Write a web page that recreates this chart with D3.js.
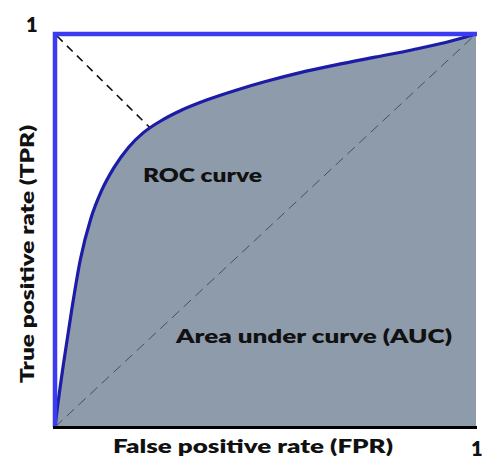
<!DOCTYPE html>
<html>
<head>
<meta charset="utf-8">
<script src="https://cdn.jsdelivr.net/npm/d3@7"></script>
<style>
  body { margin: 0; background: #fff; }
  text { font-family: Lato, "Open Sans", sans-serif; font-weight: 800; fill: #111; }
</style>
</head>
<body>
<svg id="chart" width="483" height="460"></svg>
<script>
// ROC curve points (FPR, TPR)
const fpr = [0, 0.007, 0.02, 0.04, 0.06, 0.085, 0.11, 0.14, 0.175, 0.21, 0.25, 0.30, 0.36, 0.43, 0.50, 0.58, 0.67, 0.76, 0.85, 0.93, 1];
const tpr = [0, 0.06, 0.16, 0.30, 0.425, 0.53, 0.60, 0.66, 0.712, 0.749, 0.778, 0.806, 0.832, 0.857, 0.879, 0.901, 0.922, 0.941, 0.96, 0.979, 1];
// point on the curve nearest the top-left corner
const bestPoint = [0.226, 0.761];
const cornerLabels = ["1", "1"];
const xTitle = "False positive rate (FPR)";
const yTitle = "True positive rate (TPR)";
const curveLabel = "ROC curve";
const areaLabel = "Area under curve (AUC)";

const svg = d3.select("#chart");
const plotLeft = 55, plotRight = 476, plotTop = 34, plotBottom = 427;

const x = d3.scaleLinear().domain([0, 1]).range([plotLeft, plotRight]);
const y = d3.scaleLinear().domain([0, 1]).range([plotBottom, plotTop]);

const pts = fpr.map((d, i) => [d, tpr[i]]);

// area under the curve
const area = d3.area()
    .x(d => x(d[0]))
    .y0(y(0))
    .y1(d => y(d[1]))
    .curve(d3.curveMonotoneX);

svg.append("path")
    .datum(pts)
    .attr("d", area)
    .attr("fill", "#8e9bab");

// chance diagonal
svg.append("line")
    .attr("x1", x(0)).attr("y1", y(0))
    .attr("x2", x(1)).attr("y2", y(1))
    .attr("stroke", "#4a4f58")
    .attr("stroke-width", 1)
    .attr("stroke-dasharray", "10,6");

// distance from corner to the curve
svg.append("line")
    .attr("x1", x(0) + 2).attr("y1", y(1) + 2)
    .attr("x2", x(bestPoint[0])).attr("y2", y(bestPoint[1]))
    .attr("stroke", "#111")
    .attr("stroke-width", 1.6)
    .attr("stroke-dasharray", "8,6");

// the ROC curve itself
const line = d3.line()
    .x(d => x(d[0]))
    .y(d => y(d[1]))
    .curve(d3.curveMonotoneX);

svg.append("path")
    .datum(pts)
    .attr("d", line)
    .attr("fill", "none")
    .attr("stroke", "#1c1ca6")
    .attr("stroke-width", 3.2);

// perfect classifier (left and top edges)
svg.append("path")
    .attr("d", d3.line()([[x(0), y(0)], [x(0), y(1)], [x(1) + 1, y(1)]]))
    .attr("fill", "none")
    .attr("stroke", "#3b3bf2")
    .attr("stroke-width", 4.5);

// x axis baseline
svg.append("line")
    .attr("x1", x(0) - 2).attr("y1", y(0) + 0.5)
    .attr("x2", x(1) + 1).attr("y2", y(0) + 0.5)
    .attr("stroke", "#000")
    .attr("stroke-width", 3);

// labels
svg.append("text")
    .attr("x", 26).attr("y", 32)
    .attr("font-size", 20)
    .text(cornerLabels[0]);

svg.append("text")
    .attr("x", 471).attr("y", 456)
    .attr("font-size", 20)
    .text(cornerLabels[1]);

svg.append("text")
    .attr("x", 113).attr("y", 453)
    .attr("font-size", 19)
    .attr("textLength", 280)
    .attr("lengthAdjust", "spacingAndGlyphs")
    .text(xTitle);

svg.append("text")
    .attr("transform", "translate(34,383) rotate(-90)")
    .attr("font-size", 19)
    .attr("textLength", 258)
    .attr("lengthAdjust", "spacingAndGlyphs")
    .text(yTitle);

svg.append("text")
    .attr("x", 143).attr("y", 182)
    .attr("font-size", 19)
    .attr("textLength", 119)
    .attr("lengthAdjust", "spacingAndGlyphs")
    .text(curveLabel);

svg.append("text")
    .attr("x", 176).attr("y", 343)
    .attr("font-size", 19)
    .attr("textLength", 276)
    .attr("lengthAdjust", "spacingAndGlyphs")
    .text(areaLabel);
</script>
</body>
</html>
